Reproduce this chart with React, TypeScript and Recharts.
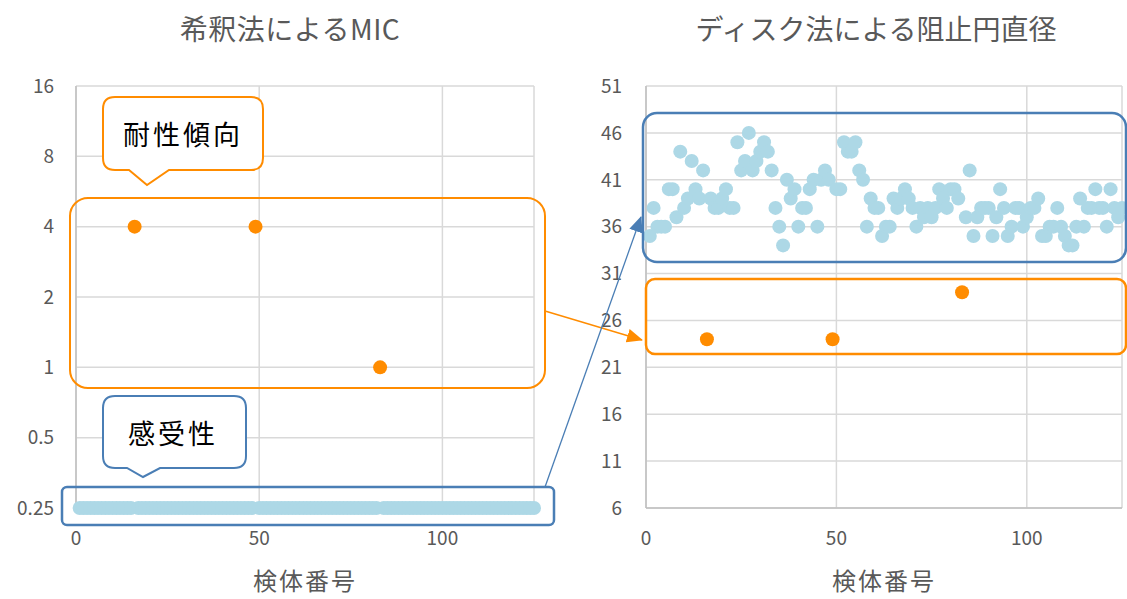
import React from 'react';
import { ScatterChart, Scatter, XAxis, YAxis, CartesianGrid } from 'recharts';

// 検体番号 (sample ids)
const susceptibleIds = [
  1, 2, 3, 4, 5, 6, 7, 8, 9, 10, 11, 12, 13, 14, 15,
  17, 18, 19, 20, 21, 22, 23, 24, 25, 26, 27, 28, 29, 30, 31, 32, 33, 34, 35, 36, 37, 38, 39, 40, 41, 42, 43, 44, 45, 46, 47, 48,
  50, 51, 52, 53, 54, 55, 56, 57, 58, 59, 60, 61, 62, 63, 64, 65, 66, 67, 68, 69, 70, 71, 72, 73, 74, 75, 76, 77, 78, 79, 80, 81, 82,
  84, 85, 86, 87, 88, 89, 90, 91, 92, 93, 94, 95, 96, 97, 98, 99, 100, 101, 102, 103, 104, 105, 106, 107, 108, 109, 110, 111, 112, 113, 114, 115, 116, 117, 118, 119, 120, 121, 122, 123, 124, 125,
];
const resistantIds = [16, 49, 83];

// MIC values
const susceptibleMic = [
  0.25, 0.25, 0.25, 0.25, 0.25, 0.25, 0.25, 0.25, 0.25, 0.25, 0.25, 0.25, 0.25, 0.25, 0.25,
  0.25, 0.25, 0.25, 0.25, 0.25, 0.25, 0.25, 0.25, 0.25, 0.25, 0.25, 0.25, 0.25, 0.25, 0.25, 0.25, 0.25, 0.25, 0.25, 0.25, 0.25, 0.25, 0.25, 0.25, 0.25, 0.25, 0.25, 0.25, 0.25, 0.25, 0.25, 0.25,
  0.25, 0.25, 0.25, 0.25, 0.25, 0.25, 0.25, 0.25, 0.25, 0.25, 0.25, 0.25, 0.25, 0.25, 0.25, 0.25, 0.25, 0.25, 0.25, 0.25, 0.25, 0.25, 0.25, 0.25, 0.25, 0.25, 0.25, 0.25, 0.25, 0.25, 0.25, 0.25, 0.25,
  0.25, 0.25, 0.25, 0.25, 0.25, 0.25, 0.25, 0.25, 0.25, 0.25, 0.25, 0.25, 0.25, 0.25, 0.25, 0.25, 0.25, 0.25, 0.25, 0.25, 0.25, 0.25, 0.25, 0.25, 0.25, 0.25, 0.25, 0.25, 0.25, 0.25, 0.25, 0.25, 0.25, 0.25, 0.25, 0.25, 0.25, 0.25, 0.25, 0.25, 0.25, 0.25,
];
const resistantMic = [4, 4, 1];

// 阻止円直径 values
const susceptibleZone = [
  35, 38, 36, 36, 36, 40, 40, 37, 44, 38, 39, 43, 40, 39, 42,
  39, 38, 38, 39, 40, 38, 38, 45, 42, 43, 46, 42, 43, 44, 45, 44, 42, 38, 36, 34, 41, 39, 40, 36, 38, 38, 40, 41, 36, 41, 42, 41,
  40, 40, 45, 44, 44, 45, 42, 41, 36, 39, 38, 38, 35, 36, 36, 39, 38, 39, 40, 39, 38, 36, 38, 37, 38, 37, 38, 40, 39, 38, 40, 40, 39,
  37, 42, 35, 37, 38, 38, 38, 35, 37, 40, 38, 35, 36, 38, 38, 36, 37, 38, 38, 39, 35, 35, 36, 36, 38, 36, 35, 34, 34, 36, 39, 36, 38, 38, 40, 38, 38, 36, 40, 38, 37, 38,
];
const resistantZone = [24, 24, 29];

const xTicks = [0, 50, 100];
const micTicks = [0.25, 0.5, 1, 2, 4, 8, 16];
const zoneTicks = [6, 11, 16, 21, 26, 31, 36, 41, 46, 51];

const leftTitle = '希釈法によるMIC';
const rightTitle = 'ディスク法による阻止円直径';
const xTitle = '検体番号';
const resistantLabel = '耐性傾向';
const susceptibleLabel = '感受性';

const BLUE = '#ADD8E6';
const ORANGE = '#FF8C00';
const NOTE_BLUE = '#4A7EB5';
const TEXT = '#595959';
const FONT = '"Noto Sans CJK JP", "Noto Sans", sans-serif';

const toPoints = (ids: number[], vals: number[]) => ids.map((id, i) => ({ x: id, y: vals[i] }));

const leftBlue = toPoints(susceptibleIds, susceptibleMic);
const leftOrange = toPoints(resistantIds, resistantMic);
const rightBlue = toPoints(susceptibleIds, susceptibleZone);
const rightOrange = toPoints(resistantIds, resistantZone);

const dot = (color: string, r: number) => (props: any) =>
  props.cx == null ? <g /> : <circle cx={props.cx} cy={props.cy} r={r} fill={color} />;

const tickStyle = { fill: TEXT, fontSize: 19, fontFamily: FONT };

export default function App() {
  return (
    <div style={{ position: 'absolute', left: 0, top: 0, width: 1127, height: 599, background: '#fff', overflow: 'hidden' }}>
      <div style={{ position: 'absolute', left: 0, top: 0 }}>
        <ScatterChart width={560} height={599} margin={{ top: 86, right: 26, bottom: 51, left: 16 }}>
          <CartesianGrid stroke="#d9d9d9" strokeWidth={1.5} />
          <XAxis
            type="number"
            dataKey="x"
            domain={[0, 125]}
            ticks={xTicks}
            height={40}
            tickLine={false}
            tickMargin={18}
            axisLine={{ stroke: '#bfbfbf', strokeWidth: 1.5 }}
            tick={tickStyle}
          />
          <YAxis
            type="number"
            dataKey="y"
            scale="log"
            domain={[0.25, 16]}
            ticks={micTicks}
            width={60}
            tickLine={false}
            tickMargin={16}
            axisLine={{ stroke: '#bfbfbf', strokeWidth: 1.5 }}
            tick={tickStyle}
          />
          <Scatter data={leftBlue} shape={dot(BLUE, 7)} isAnimationActive={false} />
          <Scatter data={leftOrange} shape={dot(ORANGE, 7)} isAnimationActive={false} />
        </ScatterChart>
      </div>
      <div style={{ position: 'absolute', left: 580, top: 0 }}>
        <ScatterChart width={547} height={599} margin={{ top: 86, right: 5, bottom: 51, left: 6 }}>
          <CartesianGrid stroke="#d9d9d9" strokeWidth={1.5} />
          <XAxis
            type="number"
            dataKey="x"
            domain={[0, 125]}
            ticks={xTicks}
            height={40}
            tickLine={false}
            tickMargin={18}
            axisLine={{ stroke: '#bfbfbf', strokeWidth: 1.5 }}
            tick={tickStyle}
          />
          <YAxis
            type="number"
            dataKey="y"
            domain={[6, 51]}
            ticks={zoneTicks}
            width={60}
            tickLine={false}
            tickMargin={18}
            axisLine={{ stroke: '#bfbfbf', strokeWidth: 1.5 }}
            tick={tickStyle}
          />
          <Scatter data={rightBlue} shape={dot(BLUE, 7)} isAnimationActive={false} />
          <Scatter data={rightOrange} shape={dot(ORANGE, 7)} isAnimationActive={false} />
        </ScatterChart>
      </div>
      <svg width={1127} height={599} style={{ position: 'absolute', left: 0, top: 0, pointerEvents: 'none' }}>
        <defs>
          <marker id="arrowOrange" markerWidth="16" markerHeight="14" refX="15" refY="7" orient="auto" markerUnits="userSpaceOnUse">
            <path d="M0,0 L16,7 L0,14 Z" fill={ORANGE} />
          </marker>
          <marker id="arrowBlue" markerWidth="16" markerHeight="14" refX="15" refY="7" orient="auto" markerUnits="userSpaceOnUse">
            <path d="M0,0 L16,7 L0,14 Z" fill={NOTE_BLUE} />
          </marker>
        </defs>
        {/* titles */}
        <text x={290} y={40} textAnchor="middle" fontSize={28} letterSpacing={0.5} fill={TEXT} fontFamily={FONT}>{leftTitle}</text>
        <text x={876} y={40} textAnchor="middle" fontSize={28} fill={TEXT} fontFamily={FONT}>{rightTitle}</text>
        <text x={305} y={590} textAnchor="middle" fontSize={24} letterSpacing={2} fill={TEXT} fontFamily={FONT}>{xTitle}</text>
        <text x={884} y={590} textAnchor="middle" fontSize={24} letterSpacing={2} fill={TEXT} fontFamily={FONT}>{xTitle}</text>

        {/* left chart highlight boxes */}
        <rect x={70} y={198} width={475} height={190} rx={18} ry={18} fill="none" stroke={ORANGE} strokeWidth={2} />
        <rect x={62} y={487} width={492} height={38} rx={5} ry={5} fill="none" stroke={NOTE_BLUE} strokeWidth={2.5} />

        {/* right chart highlight boxes */}
        <rect x={643} y={113} width={483} height={149} rx={14} ry={14} fill="none" stroke={NOTE_BLUE} strokeWidth={2.5} />
        <rect x={646} y={279} width={480} height={75} rx={9} ry={9} fill="none" stroke={ORANGE} strokeWidth={2.5} />

        {/* connectors */}
        <line x1={545} y1={311} x2={642} y2={340} stroke={ORANGE} strokeWidth={1.5} markerEnd="url(#arrowOrange)" />
        <line x1={545} y1={487} x2={641} y2={217} stroke={NOTE_BLUE} strokeWidth={1.3} markerEnd="url(#arrowBlue)" />

        {/* callouts */}
        <path
          d="M 115 97 H 251 Q 263 97 263 109 V 158 Q 263 170 251 170 H 169 L 147 185 L 129 170 H 115 Q 103 170 103 158 V 109 Q 103 97 115 97 Z"
          fill="#fff"
          stroke={ORANGE}
          strokeWidth={2}
        />
        <text x={183} y={145} textAnchor="middle" fontSize={27} letterSpacing={3} fill="#000" fontFamily={FONT}>{resistantLabel}</text>
        <path
          d="M 115 396 H 234 Q 246 396 246 408 V 456 Q 246 468 234 468 H 160 L 143 477 L 127 468 H 115 Q 103 468 103 456 V 408 Q 103 396 115 396 Z"
          fill="#fff"
          stroke={NOTE_BLUE}
          strokeWidth={2}
        />
        <text x={173} y={444} textAnchor="middle" fontSize={27} letterSpacing={3} fill="#000" fontFamily={FONT}>{susceptibleLabel}</text>
      </svg>
    </div>
  );
}
